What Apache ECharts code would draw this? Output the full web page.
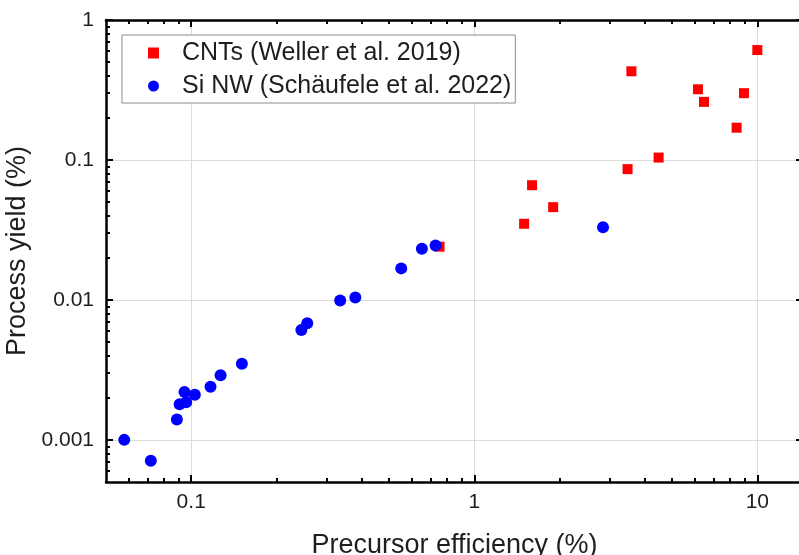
<!DOCTYPE html>
<html>
<head>
<meta charset="utf-8">
<script src="https://cdn.jsdelivr.net/npm/echarts@6/dist/echarts.min.js"></script>
<style>
  html, body { margin: 0; padding: 0; background: #fff; }
  #chart { width: 799px; height: 555px; }
</style>
</head>
<body>
<div id="chart"></div>
<script>
// Precursor efficiency (%) vs process yield (%)
const cntPoints = [
  [10.0, 0.61], [3.59, 0.43], [6.17, 0.32], [6.48, 0.26], [8.97, 0.30],
  [8.45, 0.17], [4.48, 0.104], [3.48, 0.086], [1.60, 0.066], [1.90, 0.046],
  [1.50, 0.035], [0.754, 0.024]
];
const siNwPoints = [
  [0.73, 0.0245], [0.653, 0.0232], [2.85, 0.033], [0.552, 0.0168],
  [0.38, 0.0104], [0.336, 0.0099], [0.257, 0.0068], [0.245, 0.0061],
  [0.151, 0.0035], [0.127, 0.0029], [0.117, 0.0024], [0.103, 0.0021],
  [0.0947, 0.0022], [0.096, 0.00186], [0.091, 0.0018], [0.089, 0.0014],
  [0.058, 0.001], [0.072, 0.00071]
];
const seriesNames = ['CNTs (Weller et al. 2019)', 'Si NW (Schäufele et al. 2022)'];

// tick positions
const xMajorTicks = [0.1, 1, 10];
const xMinorTicks = [0.06, 0.07, 0.08, 0.09,
  0.2, 0.3, 0.4, 0.5, 0.6, 0.7, 0.8, 0.9,
  2, 3, 4, 5, 6, 7, 8, 9];
const yMajorTicks = [0.001, 0.01, 0.1, 1];
const yMinorTicks = [0.0006, 0.0007, 0.0008, 0.0009,
  0.002, 0.003, 0.004, 0.005, 0.006, 0.007, 0.008, 0.009,
  0.02, 0.03, 0.04, 0.05, 0.06, 0.07, 0.08, 0.09,
  0.2, 0.3, 0.4, 0.5, 0.6, 0.7, 0.8, 0.9];
const xTickLabels = ['0.1', '1', '10'];
const yTickLabels = ['0.001', '0.01', '0.1', '1'];

const X_MIN = 0.05, X_MAX = 14.5;
const Y_MIN = 0.0005, Y_MAX = 1;
const FONT = '"Liberation Sans", Arial, Helvetica, sans-serif';
const TEXT = '#1e1e1e';

function labelFor(values, labels) {
  return function (v) {
    for (let i = 0; i < values.length; i++) {
      if (Math.abs(Math.log10(v) - Math.log10(values[i])) < 1e-6) return labels[i];
    }
    return '';
  };
}

function logAxis(opts) {
  const major = opts.major;
  const base = {
    type: 'log',
    logBase: 10,
    min: opts.min,
    max: opts.max,
    position: opts.position,
    axisLine: { show: !!opts.line, onZero: false, lineStyle: { color: '#000', width: 2.5 } },
    axisTick: {
      show: true,
      inside: true,
      length: major ? 7 : 4,
      customValues: opts.ticks,
      lineStyle: { color: '#000', width: 2 }
    },
    axisLabel: { show: false },
    splitLine: { show: false },
    minorTick: { show: false },
    minorSplitLine: { show: false }
  };
  if (opts.labels) {
    base.axisLabel = {
      show: true,
      customValues: opts.ticks,
      formatter: labelFor(opts.ticks, opts.labels),
      fontFamily: FONT,
      fontSize: 21,
      color: TEXT,
      margin: opts.labelMargin
    };
    base.splitLine = { show: true, lineStyle: { color: '#dcdcdc', width: 1 } };
    base.name = opts.name;
    base.nameLocation = 'middle';
    base.nameGap = opts.nameGap;
    base.nameTextStyle = { fontFamily: FONT, fontSize: 27, color: TEXT };
  }
  return base;
}

const chart = echarts.init(document.getElementById('chart'), null, { renderer: 'canvas' });

chart.setOption({
  animation: false,
  backgroundColor: '#fff',
  grid: { left: 106, right: -4, top: 20, bottom: 73, containLabel: false, outerBoundsMode: 'none' },
  legend: {
    orient: 'vertical',
    left: 122,
    top: 35,
    data: seriesNames,
    itemWidth: 11,
    itemHeight: 11,
    itemGap: 7,
    padding: [5, 4, 4, 26],
    backgroundColor: '#fff',
    borderColor: '#8c8c8c',
    borderWidth: 1,
    textStyle: { fontFamily: FONT, fontSize: 25, color: TEXT, lineHeight: 26, padding: [0, 0, 0, 18] }
  },
  xAxis: [
    logAxis({ position: 'bottom', min: X_MIN, max: X_MAX, ticks: xMajorTicks, major: true, line: true,
      labels: xTickLabels, labelMargin: 10, name: 'Precursor efficiency (%)', nameGap: 50 }),
    logAxis({ position: 'bottom', min: X_MIN, max: X_MAX, ticks: xMinorTicks }),
    logAxis({ position: 'top', min: X_MIN, max: X_MAX, ticks: xMajorTicks, major: true, line: true }),
    logAxis({ position: 'top', min: X_MIN, max: X_MAX, ticks: xMinorTicks })
  ],
  yAxis: [
    logAxis({ position: 'left', min: Y_MIN, max: Y_MAX, ticks: yMajorTicks, major: true, line: true,
      labels: yTickLabels, labelMargin: 12, name: 'Process yield (%)', nameGap: 68 }),
    logAxis({ position: 'left', min: Y_MIN, max: Y_MAX, ticks: yMinorTicks }),
    logAxis({ position: 'right', min: Y_MIN, max: Y_MAX, ticks: yMajorTicks, major: true, line: true }),
    logAxis({ position: 'right', min: Y_MIN, max: Y_MAX, ticks: yMinorTicks })
  ],
  series: [
    {
      name: seriesNames[0],
      type: 'scatter',
      xAxisIndex: 0,
      yAxisIndex: 0,
      symbol: 'rect',
      symbolSize: 10,
      itemStyle: { color: '#ff0000', opacity: 1 },
      data: cntPoints,
      z: 2
    },
    {
      name: seriesNames[1],
      type: 'scatter',
      xAxisIndex: 0,
      yAxisIndex: 0,
      symbol: 'circle',
      symbolSize: 12,
      itemStyle: { color: '#0000ff', opacity: 1 },
      data: siNwPoints,
      z: 3
    }
  ]
});
</script>
</body>
</html>
